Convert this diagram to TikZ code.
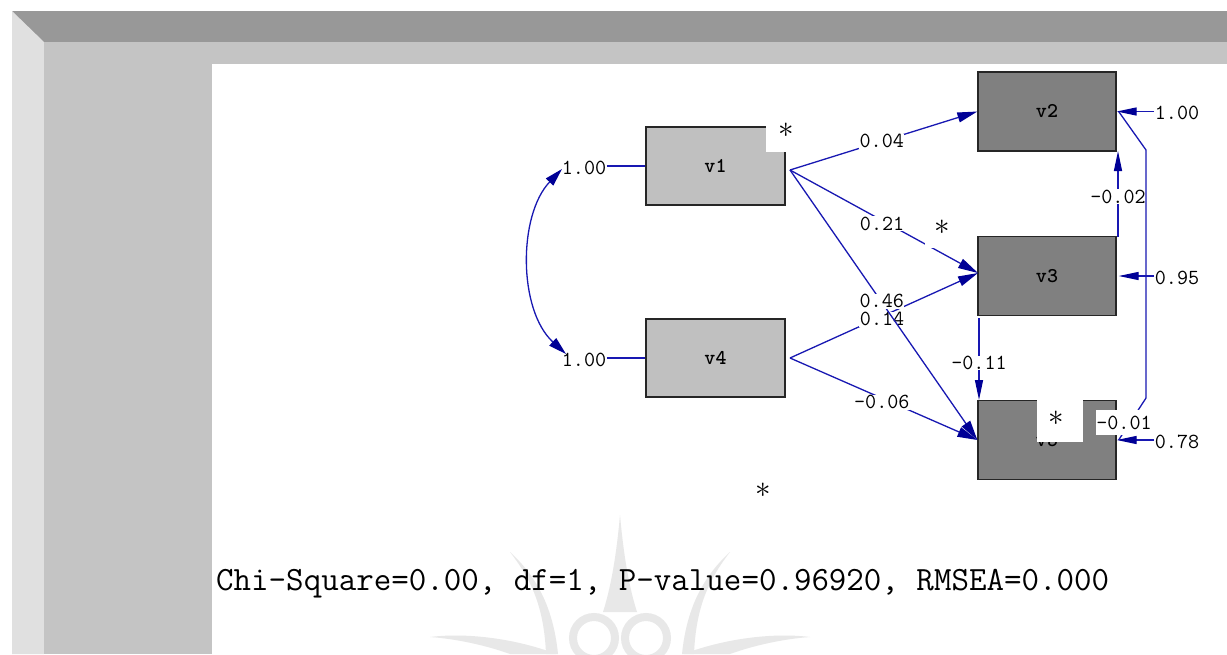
\documentclass[tikz,border=0pt]{standalone}
\usepackage{fontspec}
\usepackage{graphicx}
\usetikzlibrary{arrows.meta}

\definecolor{framedark}{RGB}{152,152,152}
\definecolor{framelight}{RGB}{224,224,224}
\definecolor{framemid}{RGB}{196,196,196}
\definecolor{edgeblue}{RGB}{24,24,178}
\definecolor{tipblue}{RGB}{0,0,150}
\definecolor{boxlight}{RGB}{192,192,192}
\definecolor{boxdark}{RGB}{128,128,128}
\definecolor{wmgray}{RGB}{232,232,232}

\newcommand{\markstar}{\scalebox{3.1}{$\ast$}}

\begin{document}
\begin{tikzpicture}[x=1pt,y=-1pt,
  exo/.style={draw=black!85, line width=1.3pt, fill=boxlight, minimum width=139pt,
    minimum height=78pt, inner sep=0pt, font=\ttfamily\bfseries\fontsize{21}{21}\selectfont},
  endo/.style={exo, fill=boxdark},
  coef/.style={fill=white, inner sep=0.5pt, font=\ttfamily\fontsize{21.5}{22}\selectfont},
  plain/.style={inner sep=0.5pt, font=\ttfamily\fontsize{21.5}{22}\selectfont},
  link/.style={draw=edgeblue, line width=1.3pt,
    -{Triangle[length=20pt,width=10pt,fill=tipblue,color=tipblue]}},
  short/.style={draw=edgeblue, line width=1.3pt,
    -{Triangle[length=20pt,width=8pt,fill=tipblue,color=tipblue]}},
  twohead/.style={draw=edgeblue, line width=1.3pt,
    {Triangle[length=18pt,width=10pt,fill=tipblue,color=tipblue]}-{Triangle[length=18pt,width=10pt,fill=tipblue,color=tipblue]}},
  bare/.style={draw=edgeblue, line width=1.3pt},
  star/.style={inner sep=0pt},
  wm/.style={fill=wmgray, draw=wmgray}
]
\useasboundingbox (0,0) rectangle (1227,654);

% window frame
\fill[white] (0,0) rectangle (1227,654);
\fill[framedark] (12,11) rectangle (1227,42);
\fill[framelight] (12,11) -- (44,42) -- (44,654) -- (12,654) -- cycle;
\fill[framemid] (44,42) rectangle (1227,654);
\fill[white] (212,64) rectangle (1227,654);

% faint ornament in the background
\begin{scope}[wm]
  \fill (620,515) .. controls (616,560) and (610,590) .. (603,612) -- (637,612) .. controls (630,590) and (624,560) .. (620,515);
  \draw[line width=8pt, fill=none] (594,638) circle (21);
  \draw[line width=8pt, fill=none] (646,638) circle (21);
  \fill (510,552) .. controls (530,578) and (544,605) .. (546,654) -- (558,654) .. controls (553,605) and (535,575) .. (510,552);
  \fill (730,552) .. controls (710,578) and (696,605) .. (694,654) -- (682,654) .. controls (687,605) and (705,575) .. (730,552);
  \fill (430,637) .. controls (470,632) and (520,640) .. (556,654) -- (510,654) .. controls (488,646) and (458,639) .. (430,637);
  \fill (810,637) .. controls (770,632) and (720,640) .. (684,654) -- (730,654) .. controls (752,646) and (782,639) .. (810,637);
\end{scope}

% observed variables
\node[exo]  (v1) at (715.5,166) {v1};
\node[exo]  (v4) at (715.5,358) {v4};
\node[endo, minimum width=138pt, minimum height=79pt] (v2) at (1047,111.5) {v2};
\node[endo, minimum width=138pt, minimum height=79pt] (v3) at (1047,276) {v3};
\node[endo, minimum width=138pt, minimum height=79pt] (v5) at (1047,440) {v5};

\coordinate (v1o) at (790,170);
\coordinate (v4o) at (790,358);
\coordinate (v3in) at (978,273);
\coordinate (v3b) at (979,318);
\coordinate (v5t) at (979,400);
\coordinate (v3t) at (1118,237);
\coordinate (v2b) at (1118,151);

% variances of the exogenous variables and their covariance
\node[plain] (l1) at (584,168) {1.00};
\node[plain] (l4) at (584,360) {1.00};
\draw[bare] (l1.east |- v1.west) -- (v1.west);
\draw[bare] (l4.east |- v4.west) -- (v4.west);
\coordinate (c1) at (562,169);
\coordinate (c4) at (566,354);
\draw[twohead] (c1) .. controls (518,215) and (518,310) .. (c4);

% structural paths
\draw[link] (v1o) -- node[coef, pos=0.49] {0.04} (v2.west);
\draw[link] (v1o) -- node[coef, pos=0.49, yshift=-3pt] {0.21} (v3in);
\draw[link] (v4o) -- node[coef, pos=0.49, yshift=-3pt] {0.14} (v3in);
\draw[link] (v1o) -- node[coef, pos=0.49, yshift=1pt] {0.46} (v5.west);
\draw[link] (v4o) -- node[coef, pos=0.49, yshift=-4pt] {-0.06} (v5.west);
\draw[short] (v3b) -- node[coef, pos=0.55] {-0.11} (v5t);
\draw[short] (v3t) -- node[coef, pos=0.47] {-0.02} (v2b);

% error variances
\node[plain] (e2) at (1177,113) {1.00};
\node[plain] (e3) at (1177,278) {0.95};
\node[plain] (e5) at (1177,442) {0.78};
\draw[short] (e2.west |- v2.east) -- (v2.east);
\draw[short] (e3.west |- v3.east) -- ([xshift=2pt]v3.east);
\draw[short] (e5.west |- v5.east) -- (v5.east);

% error covariance between v2 and v5
\coordinate (k1) at (1146,150);
\coordinate (k2) at (1146,398);
\draw[bare] ([xshift=2pt]v2.east) -- (k1) -- (k2) -- ([xshift=2pt]v5.east);
\node[fill=white, minimum width=46pt, minimum height=25pt, inner sep=0pt,
  font=\ttfamily\fontsize{21.5}{22}\selectfont] (e25) at (1124,422.5) {-0.01};

% fit statistics
\node[anchor=west, inner sep=0pt, font=\ttfamily\fontsize{34}{34}\selectfont] (fit)
  at (216,584) {Chi-Square=0.00, df=1, P-value=0.96920, RMSEA=0.000};

% marked patches
\fill[white] (766,118) rectangle (800,152);
\node[star] (s1) at (786,130) {\markstar};
\fill[white] (925,210) rectangle (960,248);
\node[star] (s3) at (942,227) {\markstar};
\fill[white] (1037,400) rectangle (1083,442);
\node[star] (s5) at (1056,418) {\markstar};
\node[star, fill=white] (s0) at (763,490) {\markstar};
\end{tikzpicture}
\end{document}
